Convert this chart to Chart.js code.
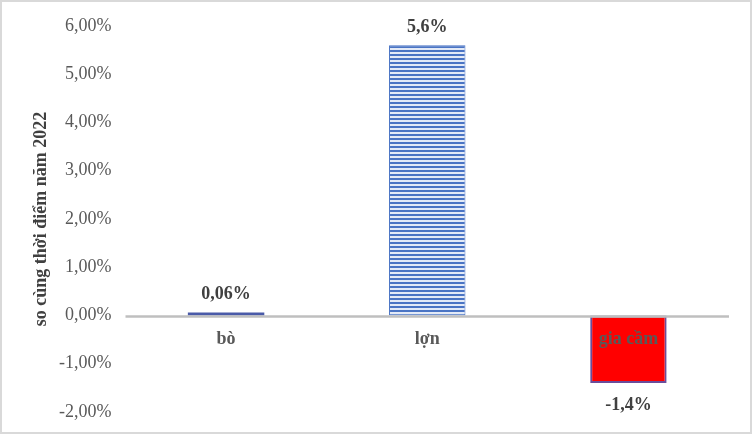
<!DOCTYPE html>
<html><head><meta charset="utf-8">
<script src="https://cdn.jsdelivr.net/npm/chart.js@4.4.0/dist/chart.umd.min.js"></script>
<style>
html,body{margin:0;padding:0;background:#fff;}
#wrap{width:752px;height:434px;box-sizing:border-box;border:2px solid #d9d9d9;position:relative;}
canvas{display:block;}
</style></head><body>
<div id="wrap"><canvas id="c" width="748" height="430"></canvas></div>
<script>
const categories = ['bò', 'lợn', 'gia cầm'];
const values = [0.06, 5.6, -1.4];
const valueLabels = ['0,06%', '5,6%', '-1,4%'];
const yTickMin = -2;
const yTickMax = 6;

function stripePattern() {
  const p = document.createElement('canvas');
  p.width = 8; p.height = 4;
  const g = p.getContext('2d');
  g.fillStyle = '#e3eaf7'; g.fillRect(0, 0, 8, 4);
  g.fillStyle = '#4a74c4'; g.fillRect(0, 0, 8, 2);
  return g.createPattern(p, 'repeat');
}
const ctx = document.getElementById('c').getContext('2d');
const pat = stripePattern();
const FONT = '"Liberation Serif", "Times New Roman", serif';

const labelPlugin = {
  id: 'labels',
  afterDraw(chart) {
    const c = chart.ctx;
    const meta = chart.getDatasetMeta(0);
    const xs = chart.scales.x, ys = chart.scales.y;
    const zeroY = ys.getPixelForValue(0);
    c.save();
    c.textAlign = 'center';
    c.textBaseline = 'middle';
    // zero line
    c.strokeStyle = '#bfbfbf';
    c.lineWidth = 2.5;
    c.beginPath();
    c.moveTo(chart.chartArea.left, zeroY + 1);
    c.lineTo(chart.chartArea.right, zeroY + 1);
    c.stroke();
    // category labels
    c.font = 'bold 18px ' + FONT;
    c.fillStyle = '#595959';
    categories.forEach((cat, i) => {
      c.fillText(cat, xs.getPixelForValue(i), zeroY + 24);
    });
    // value labels
    c.fillStyle = '#404040';
    meta.data.forEach((bar, i) => {
      const v = values[i];
      const y = v >= 0 ? bar.y - 18 : bar.y + 22;
      c.fillText(valueLabels[i], bar.x, y);
    });
    c.restore();
  }
};

new Chart(ctx, {
  type: 'bar',
  data: {
    labels: categories,
    datasets: [{
      data: values,
      backgroundColor: ['#4a5aa8', pat, '#ff0000'],
      borderColor: ['#4a5aa8', '#4a74c4', '#6b4c9a'],
      borderWidth: [0, 1, 2],
      barPercentage: 0.38,
      categoryPercentage: 1,
      borderSkipped: false
    }]
  },
  options: {
    responsive: false,
    animation: false,
    layout: { padding: { top: 24, bottom: 20, left: 0, right: 21 } },
    plugins: { legend: { display: false }, tooltip: { enabled: false } },
    scales: {
      x: {
        display: false
      },
      y: {
        min: yTickMin, max: yTickMax,
        grid: { display: false, drawTicks: false },
        border: { display: false },
        afterFit(scale) { scale.width = 123.5; scale.paddingTop = 0; scale.paddingBottom = 0; },
        ticks: {
          stepSize: 1,
          padding: 14,
          color: '#595959',
          font: { family: FONT, size: 18 },
          callback: v => v.toFixed(2).replace('.', ',') + '%'
        },
        title: {
          display: true,
          text: 'so cùng thời điểm năm 2022',
          color: '#404040',
          padding: { top: 29, bottom: 4 },
          font: { family: FONT, size: 18, weight: 'bold' }
        }
      }
    }
  },
  plugins: [labelPlugin]
});
</script>
</body></html>
